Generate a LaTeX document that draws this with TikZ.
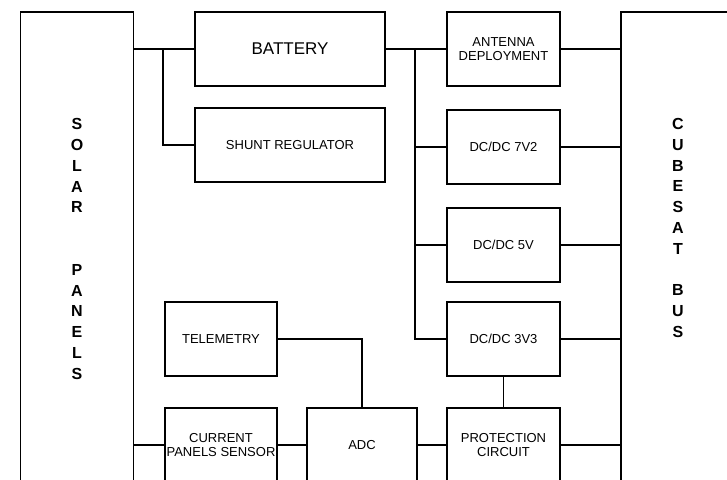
\documentclass[tikz,border=0pt]{standalone}
\usepackage{fontspec}
\setmainfont{Liberation Sans}
\usetikzlibrary{positioning}

\tikzset{
  block/.style={draw, line width=1.6pt, inner sep=0pt, align=center,
    minimum width=113pt, minimum height=74pt,
    font=\fontsize{13}{14}\selectfont},
  side/.style={draw, line width=1.6pt, inner sep=0pt,
    minimum width=113pt, minimum height=474pt},
  tall/.style={align=center, font=\fontsize{16}{20.8}\selectfont\bfseries},
  wire/.style={line width=1.6pt}
}

\begin{document}
\begin{tikzpicture}[x=1pt, y=-1pt]
    \clip (0,0) rectangle (727,479);
    % outer columns
    \node[side] (solar) at (77,249) {};
    \node[tall] (solartext) at (77,249) {S\\O\\L\\A\\R\\~\\~\\P\\A\\N\\E\\L\\S};
    \node[side, minimum width=114pt] (bus) at (678,249) {};
    \node[tall] (bustext) at (678,228) {C\\U\\B\\E\\S\\A\\T\\~\\B\\U\\S};
    % power path
    \node[block, minimum width=190pt, font=\fontsize{17}{18}\selectfont] (battery) at (290,49) {BATTERY};
    \node[block, minimum width=190pt] (shunt) at (290,145) {SHUNT REGULATOR};
    \node[block] (antenna) at (503.5,49) {ANTENNA\\DEPLOYMENT};
    \node[block] (dc7) at (503.5,147) {DC/DC 7V2};
    \node[block] (dc5) at (503.5,245) {DC/DC 5V};
    \node[block] (dc3) at (503.5,339) {DC/DC 3V3};
    \node[block] (protect) at (503.5,445) {PROTECTION\\CIRCUIT};
    % sensing path
    \node[block, minimum width=112pt] (telemetry) at (221,339) {TELEMETRY};
    \node[block, minimum width=112pt] (sensor) at (221,445) {CURRENT\\PANELS SENSOR};
    \node[block, minimum width=110pt] (adc) at (362,445) {ADC};
    % junctions
    \coordinate (jsolar) at (163,49);
    \coordinate (jbatt) at (415,49);
    % wiring
    \draw[wire] (battery.west -| solar.east) -- (battery.west);
    \draw[wire] (jsolar) |- (shunt.west);
    \draw[wire] (battery.east) -- (antenna.west);
    \draw[wire] (jbatt) |- (dc3.west);
    \draw[wire] (jbatt |- dc7.west) -- (dc7.west);
    \draw[wire] (jbatt |- dc5.west) -- (dc5.west);
    \draw[wire] (antenna.east) -- (antenna.east -| bus.west);
    \draw[wire] (dc7.east) -- (dc7.east -| bus.west);
    \draw[wire] (dc5.east) -- (dc5.east -| bus.west);
    \draw[wire] (dc3.east) -- (dc3.east -| bus.west);
    \draw[wire] (protect.east) -- (protect.east -| bus.west);
    \draw[wire] (dc3.south) -- (protect.north);
    \draw[wire] (sensor.west -| solar.east) -- (sensor.west);
    \draw[wire] (sensor.east) -- (adc.west);
    \draw[wire] (adc.east) -- (protect.west);
    \draw[wire] (telemetry.east) -| (adc.north);
\end{tikzpicture}
\end{document}
